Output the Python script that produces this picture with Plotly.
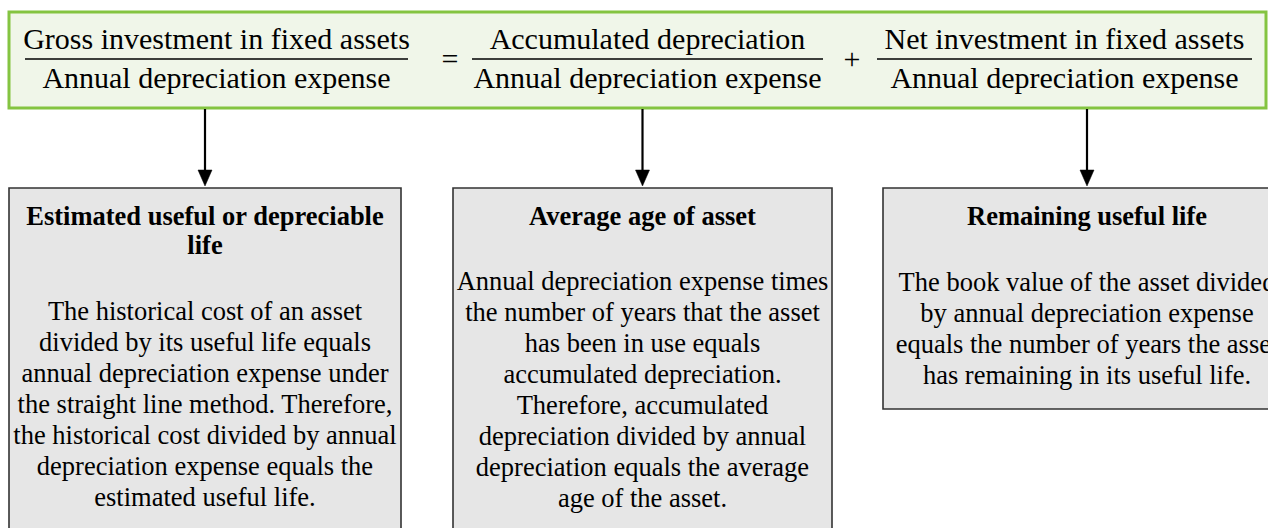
import plotly.graph_objects as go

# ---------------- content ----------------
numerators = ["Gross investment in fixed assets", "Accumulated depreciation",
              "Net investment in fixed assets"]
denominators = ["Annual depreciation expense", "Annual depreciation expense",
                "Annual depreciation expense"]
operators = ["=", "+"]

box_titles = [
    ["Estimated useful or depreciable", "life"],
    ["Average age of asset"],
    ["Remaining useful life"],
]
box_bodies = [
    ["The historical cost of an asset",
     "divided by its useful life equals",
     "annual depreciation expense under",
     "the straight line method. Therefore,",
     "the historical cost divided by annual",
     "depreciation expense equals the",
     "estimated useful life."],
    ["Annual depreciation expense times",
     "the number of years that the asset",
     "has been in use equals",
     "accumulated depreciation.",
     "Therefore, accumulated",
     "depreciation divided by annual",
     "depreciation equals the average",
     "age of the asset."],
    ["The book value of the asset divided",
     "by annual depreciation expense",
     "equals the number of years the asset",
     "has remaining in its useful life."],
]

# ---------------- layout geometry ----------------
W, H = 1268, 528
FONT = "Liberation Serif, Times New Roman, serif"

top_box = dict(x0=9, x1=1266, y0=12, y1=108)
frac_lines = [(25, 408), (472, 823), (877, 1252)]
frac_line_y = 59
num_y, den_y = 41, 80.5
op_y = 61
op_x = [450, 852]

boxes = [dict(x0=9, x1=401, y0=188, y1=560),
         dict(x0=453, x1=832, y0=188, y1=560),
         dict(x0=883, x1=1291, y0=188, y1=409)]
title_y0 = [218, 218, 218]
title_step = 29
body_y0 = [313, 283, 284]
body_step = [31, 31, 31]

arrow_top = 109
arrow_tip = 186
head_len, head_half = 16, 7

fig = go.Figure()

shapes = []
shapes.append(dict(type="rect", xref="x", yref="y", layer="below",
                   line=dict(color="#84c441", width=3), fillcolor="#f0f6e9",
                   **top_box))
for (a, b) in frac_lines:
    shapes.append(dict(type="line", xref="x", yref="y", x0=a, x1=b,
                       y0=frac_line_y, y1=frac_line_y,
                       line=dict(color="black", width=1.5)))
for bx in boxes:
    shapes.append(dict(type="rect", xref="x", yref="y", layer="below",
                       line=dict(color="#333333", width=1.6), fillcolor="#e6e6e6",
                       **bx))
    cx = (bx["x0"] + bx["x1"]) / 2
    shapes.append(dict(type="line", xref="x", yref="y", x0=cx, x1=cx,
                       y0=arrow_top, y1=arrow_tip - head_len + 1,
                       line=dict(color="black", width=2.2)))
    shapes.append(dict(type="path", xref="x", yref="y",
                       path=f"M {cx-head_half},{arrow_tip-head_len} L {cx+head_half},{arrow_tip-head_len} L {cx},{arrow_tip} Z",
                       fillcolor="black", line=dict(color="black", width=0.5)))

fx = [(a + b) / 2 for a, b in frac_lines]
fig.add_trace(go.Scatter(x=fx, y=[num_y] * 3, text=numerators, mode="text",
                         textfont=dict(family=FONT, size=30, color="black"),
                         hoverinfo="skip", showlegend=False, cliponaxis=False))
fig.add_trace(go.Scatter(x=fx, y=[den_y] * 3, text=denominators, mode="text",
                         textfont=dict(family=FONT, size=30, color="black"),
                         hoverinfo="skip", showlegend=False, cliponaxis=False))
fig.add_trace(go.Scatter(x=op_x, y=[op_y] * 2, text=operators, mode="text",
                         textfont=dict(family=FONT, size=30, color="black"),
                         hoverinfo="skip", showlegend=False, cliponaxis=False))

for i, bx in enumerate(boxes):
    cx = (bx["x0"] + bx["x1"]) / 2
    tys = [title_y0[i] + k * title_step for k in range(len(box_titles[i]))]
    fig.add_trace(go.Scatter(x=[cx] * len(tys), y=tys,
                             text=[f"<b>{t}</b>" for t in box_titles[i]], mode="text",
                             textfont=dict(family=FONT, size=26.5, color="black"),
                             hoverinfo="skip", showlegend=False, cliponaxis=False))
    bys = [body_y0[i] + k * body_step[i] for k in range(len(box_bodies[i]))]
    fig.add_trace(go.Scatter(x=[cx] * len(bys), y=bys, text=box_bodies[i], mode="text",
                             textfont=dict(family=FONT, size=26.5, color="black"),
                             hoverinfo="skip", showlegend=False, cliponaxis=False))

fig.update_layout(
    width=W, height=H, margin=dict(l=0, r=0, t=0, b=0),
    paper_bgcolor="white", plot_bgcolor="white",
    shapes=shapes,
    xaxis=dict(range=[0, W], visible=False, fixedrange=True),
    yaxis=dict(range=[H, 0], visible=False, fixedrange=True),
    showlegend=False,
)

fig.write_html("out.html", config={"displayModeBar": False},
               post_script="document.body.style.margin='0px';"
                           "document.body.style.overflow='hidden';")
